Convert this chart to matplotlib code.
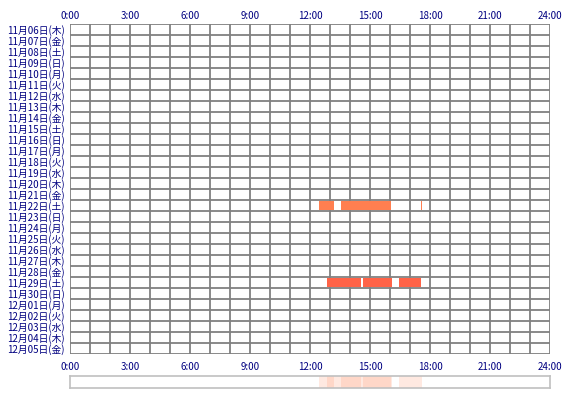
import datetime as dt
import matplotlib
matplotlib.use("Agg")
import matplotlib.pyplot as plt

plt.rcParams['font.family'] = ['Noto Sans CJK JP', 'DejaVu Sans']

# Datos: días mostrados y tramos de actividad (horas decimales)
start_day = dt.date(2025, 11, 6)
n_days = 30
weekdays = ["月", "火", "水", "木", "金", "土", "日"]
days = [start_day + dt.timedelta(days=i) for i in range(n_days)]
day_labels = [f"{d.month}月{d.day:02d}日({weekdays[d.weekday()]})" for d in days]

hour_ticks = [0, 3, 6, 9, 12, 15, 18, 21, 24]
hour_labels = [f"{h}:00" for h in hour_ticks]

# tramos por día: (fila, inicio, fin, color)
act_rows = [16, 16, 16, 23, 23, 23]
act_start = [12.47, 13.55, 17.55, 12.83, 14.65, 16.45]
act_end = [13.20, 16.05, 17.60, 14.55, 16.10, 17.53]
act_color = ["#FF7F50", "#FF7F50", "#FF7F50", "#FF6347", "#FF6347", "#FF6347"]

navy = "#000080"
grid_c = "#808080"

fig = plt.figure(figsize=(5.7, 4.0), dpi=100)
ax = fig.add_axes([70 / 570, 1 - 354 / 400, 480 / 570, 330 / 400])

# Barras de actividad (encima de la rejilla vertical)
for r, s, e, c in zip(act_rows, act_start, act_end, act_color):
    ax.barh(r, e - s, left=s, height=0.86, color=c, zorder=3, linewidth=0)

# Rejilla
for h in range(25):
    ax.axvline(h, color=grid_c, lw=1.3, zorder=2)
for i in range(n_days + 1):
    ax.axhline(i - 0.5, color=grid_c, lw=1.3, zorder=2)

ax.set_xlim(0, 24)
ax.set_ylim(n_days - 0.5, -0.5)
ax.set_yticks(range(n_days))
ax.set_yticklabels(day_labels, fontsize=7, color=navy)
ax.set_xticks(hour_ticks)
ax.set_xticklabels(hour_labels, fontsize=7, color=navy)
ax.tick_params(axis="x", bottom=True, labelbottom=True, length=0, pad=6)
ax.tick_params(axis="y", length=0, pad=4)
for sp in ax.spines.values():
    sp.set_visible(False)

top = ax.secondary_xaxis("top")
top.set_xticks(hour_ticks)
top.set_xticklabels(hour_labels, fontsize=7, color=navy)
top.tick_params(length=0, pad=2)
top.spines["top"].set_visible(False)

# Franja resumen inferior
ax2 = fig.add_axes([70 / 570, 1 - 388 / 400, 480 / 570, 12 / 400])
for s, e in zip(act_start, act_end):
    ax2.axvspan(s, e, color="#FF7F50", alpha=0.17, lw=0)
ax2.set_xlim(0, 24)
ax2.set_ylim(0, 1)
ax2.set_xticks([])
ax2.set_yticks([])
for sp in ax2.spines.values():
    sp.set_color("#C0C0C0")
    sp.set_linewidth(1.2)

fig.savefig("out.png", dpi=100)
